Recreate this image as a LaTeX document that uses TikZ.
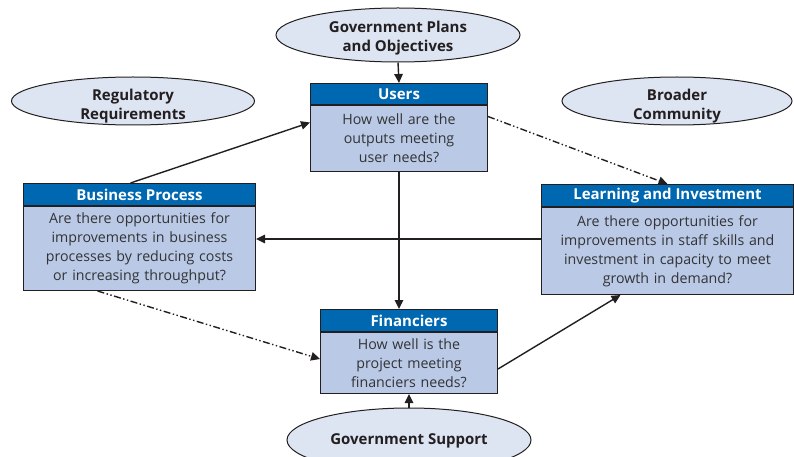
\documentclass[tikz,border=0pt]{standalone}
\usepackage{fontspec}
\setmainfont{Open Sans}
\usetikzlibrary{shapes.geometric,arrows.meta}
\definecolor{headblue}{HTML}{0067B1}
\definecolor{bodyblue}{HTML}{B9C9E6}
\definecolor{ovalblue}{HTML}{DDE4F2}
\definecolor{linegray}{HTML}{231F20}
\definecolor{textgray}{HTML}{333335}
\tikzset{
  oval/.style={ellipse, draw=linegray, line width=1pt, fill=ovalblue, inner sep=0pt},
  ovaltext/.style={text=linegray, font=\fontsize{15}{19}\selectfont\bfseries, align=center, inner sep=0pt},
  head/.style={draw=linegray, line width=1pt, fill=headblue, text=white,
    font=\fontsize{15}{16}\selectfont\bfseries, anchor=north west, inner sep=0pt},
  body/.style={draw=linegray, line width=1pt, fill=bodyblue, text=textgray,
    font=\fontsize{14.2}{19}\selectfont, align=center, anchor=north west, inner sep=0pt},
  link/.style={draw=linegray, line width=1.4pt, -{Triangle[length=9pt,width=8.5pt]}},
  dashlink/.style={link, dash pattern=on 7pt off 2.5pt on 1.4pt off 2.5pt on 1.4pt off 2.5pt}
}
\begin{document}
\begin{tikzpicture}[x=1pt,y=-1pt]
                \useasboundingbox (0,0) rectangle (794,457);

                \node[oval, minimum width=244, minimum height=54] (plans) at (398,35) {};
                \node[ovaltext] (plansText) at (398,38) {Government Plans\\and Objectives};
                \node[oval, minimum width=243, minimum height=48] (regul) at (133,101) {};
                \node[ovaltext] (regulText) at (133,106) {Regulatory\\Requirements};
                \node[oval, minimum width=230, minimum height=48] (broad) at (677,101) {};
                \node[ovaltext] (broadText) at (677,106) {Broader\\Community};
                \node[oval, minimum width=244, minimum height=64] (support) at (409,440) {};
                \node[ovaltext] (supportText) at (409,441) {Government Support};

                \node[head, minimum width=177, minimum height=21] (usersHead) at (310,83) {Users};
                \node[body, text width=177, minimum height=66] (users) at (usersHead.south west) {How well are the\\outputs meeting\\user needs?};
                \node[head, minimum width=232, minimum height=22] (busHead) at (23,183) {Business Process};
                \node[body, text width=232, minimum height=84] (bus) at (busHead.south west) {Are there opportunities for\\improvements in business\\processes by reducing costs\\or increasing throughput?};
                \node[head, minimum width=252, minimum height=22] (learnHead) at (541,184) {Learning and Investment};
                \node[body, text width=252, minimum height=87] (learn) at (learnHead.south west) {Are there opportunities for\\improvements in staff skills and\\investment in capacity to meet\\growth in demand?};
                \node[head, minimum width=177, minimum height=22] (finHead) at (320,309) {Financiers};
                \node[body, text width=177, minimum height=61] (fin) at (finHead.south west) {How well is the\\project meeting\\financiers needs?};

                \draw[link] (plans.south) to (usersHead.north);
                \draw[link] ([xshift=-9]busHead.north) to ([yshift=16]users.west);
                \draw[link] (users.south) to (users.south |- finHead.north);
                \draw[link] ([yshift=12]learn.west) to ([yshift=12]learn.west -| bus.east);
                \draw[dashlink] ([yshift=22]users.east) to (learnHead.north);
                \draw[dashlink] ([xshift=-42]bus.south) to ([yshift=4]fin.west);
                \draw[link] ([yshift=-6]fin.east) to ([xshift=-47]learn.south);
                \draw[link] (support.north) to (support.north |- fin.south);
            \end{tikzpicture}
\end{document}
